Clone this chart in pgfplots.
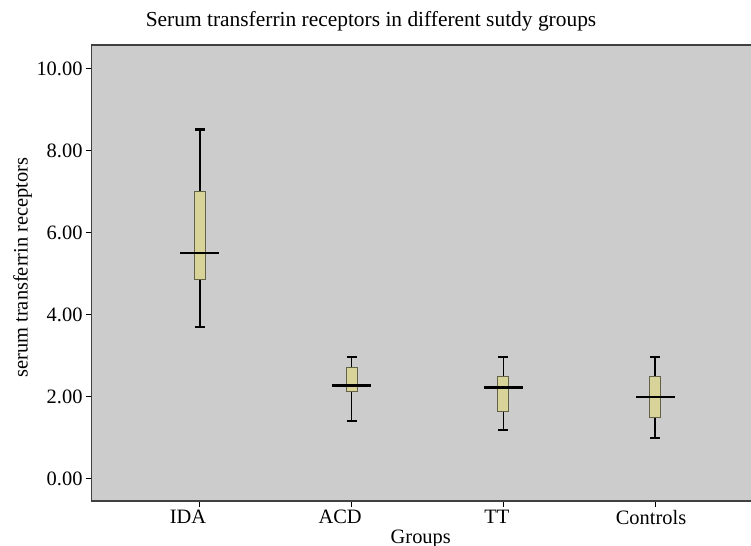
\documentclass[border=0pt]{standalone}
\usepackage{fontspec}
\setmainfont{Liberation Serif}
\usepackage{pgfplots}
\pgfplotsset{compat=1.18}
\usepgfplotslibrary{statistics}
\definecolor{bg}{RGB}{204,204,204}
\definecolor{boxfill}{RGB}{216,211,152}
\definecolor{boxedge}{RGB}{100,98,70}
\newcommand\cf{\fontsize{20.5}{24}\selectfont}
\begin{document}
\begin{tikzpicture}
\path[use as bounding box] (-91.5bp,-45bp) rectangle (659.5bp,501bp);
\begin{axis}[
  name=ax,
  at={(0,0)}, anchor=south west,
  scale only axis, width=672bp, height=456bp,
  xmin=-0.715, xmax=3.715,
  ymin=-0.55, ymax=10.57,
  axis x line*=box, axis y line*=left,
  axis background/.style={fill=bg},
  axis line style={black!75, line width=1.2pt, -},
  every outer y axis line/.append style={-},
  every outer x axis line/.append style={-},
  xtick={0,1,2,3},
  xticklabels={{IDA\hspace*{24bp}},{ACD\hspace*{23bp}},{TT\hspace*{13bp}},{Controls\hspace*{8bp}}},
  ytick={0,2,4,6,8,10},
  xtick pos=bottom, ytick pos=left,
  tick align=outside,
  major tick length=5.5bp,
  tick style={black, line width=1pt},
  yticklabel style={font=\cf, /pgf/number format/.cd, fixed, fixed zerofill, precision=2, assume math mode=true},
  xticklabel style={font=\cf},
  title={Serum transferrin receptors in different sutdy groups},
  title style={font=\fontsize{21.5}{24}\selectfont, at={(axis description cs:0.416,1)}, anchor=base, yshift=13bp},
  xlabel={Groups},
  xlabel style={font=\cf, at={(axis description cs:0.49,0)}, anchor=base, yshift=-42bp},
  ylabel={serum transferrin receptors},
  ylabel style={font=\cf, at={(axis description cs:-0.095,0.512)}, anchor=base},
  boxplot/draw direction=y,
  boxplot/box extend=0.0725,
  boxplot/whisker extend=0.066,
  boxplot/draw/box/.code={\draw[fill=boxfill, draw=boxedge, line width=0.8pt] (boxplot box cs:\pgfplotsboxplotvalue{lower quartile},0) rectangle (boxplot box cs:\pgfplotsboxplotvalue{upper quartile},1);},
  boxplot/draw/median/.code={\draw[black, line width=2.5pt] (boxplot box cs:\pgfplotsboxplotvalue{median},-1.27) -- (boxplot box cs:\pgfplotsboxplotvalue{median},2.27);},
  boxplot/draw/lower whisker/.code={\draw[black, line width=1.5pt] (boxplot box cs:\pgfplotsboxplotvalue{lower whisker},0.5) -- (boxplot box cs:\pgfplotsboxplotvalue{lower quartile},0.5); \draw[black, line width=2.2pt] (boxplot whisker cs:\pgfplotsboxplotvalue{lower whisker},0) -- (boxplot whisker cs:\pgfplotsboxplotvalue{lower whisker},1);},
  boxplot/draw/upper whisker/.code={\draw[black, line width=1.5pt] (boxplot box cs:\pgfplotsboxplotvalue{upper whisker},0.5) -- (boxplot box cs:\pgfplotsboxplotvalue{upper quartile},0.5); \draw[black, line width=2.2pt] (boxplot whisker cs:\pgfplotsboxplotvalue{upper whisker},0) -- (boxplot whisker cs:\pgfplotsboxplotvalue{upper whisker},1);},
]
\addplot[boxplot prepared={draw position=0, lower whisker=3.70, lower quartile=4.85, median=5.50, upper quartile=7.01, upper whisker=8.51}] coordinates {};
\addplot[boxplot prepared={draw position=1, lower whisker=1.40, lower quartile=2.13, median=2.27, upper quartile=2.72, upper whisker=2.97}] coordinates {};
\addplot[boxplot prepared={draw position=2, lower whisker=1.19, lower quartile=1.63, median=2.22, upper quartile=2.50, upper whisker=2.97}] coordinates {};
\addplot[boxplot prepared={draw position=3, lower whisker=0.99, lower quartile=1.50, median=1.98, upper quartile=2.50, upper whisker=2.97}] coordinates {};
\end{axis}
\end{tikzpicture}
\end{document}
